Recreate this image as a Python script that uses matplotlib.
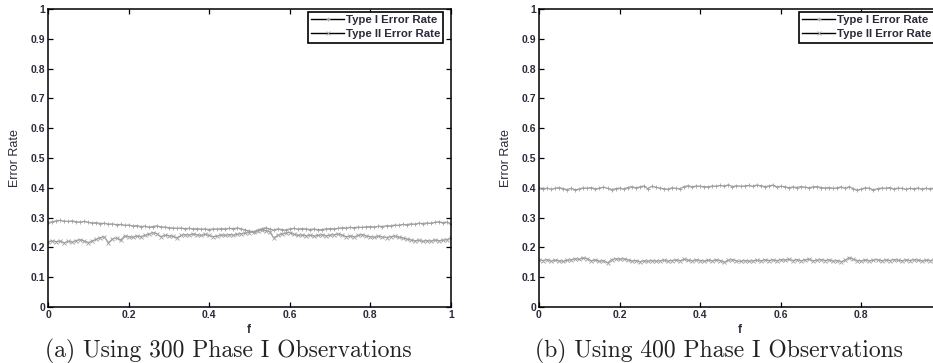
import matplotlib
matplotlib.use("Agg")
import matplotlib.pyplot as plt
from matplotlib.lines import Line2D
from matplotlib.ticker import MultipleLocator, FuncFormatter

f = [0.00, 0.01, 0.02, 0.03, 0.04, 0.05, 0.06, 0.07, 0.08, 0.09,
     0.10, 0.11, 0.12, 0.13, 0.14, 0.15, 0.16, 0.17, 0.18, 0.19,
     0.20, 0.21, 0.22, 0.23, 0.24, 0.25, 0.26, 0.27, 0.28, 0.29,
     0.30, 0.31, 0.32, 0.33, 0.34, 0.35, 0.36, 0.37, 0.38, 0.39,
     0.40, 0.41, 0.42, 0.43, 0.44, 0.45, 0.46, 0.47, 0.48, 0.49,
     0.50, 0.51, 0.52, 0.53, 0.54, 0.55, 0.56, 0.57, 0.58, 0.59,
     0.60, 0.61, 0.62, 0.63, 0.64, 0.65, 0.66, 0.67, 0.68, 0.69,
     0.70, 0.71, 0.72, 0.73, 0.74, 0.75, 0.76, 0.77, 0.78, 0.79,
     0.80, 0.81, 0.82, 0.83, 0.84, 0.85, 0.86, 0.87, 0.88, 0.89,
     0.90, 0.91, 0.92, 0.93, 0.94, 0.95, 0.96, 0.97, 0.98, 0.99, 1.00]

# (a) 300 Phase I observations
a_type1 = [0.283, 0.286, 0.289, 0.291, 0.288, 0.287, 0.289, 0.286, 0.285, 0.287, 0.284,
           0.282, 0.283, 0.280, 0.281, 0.278, 0.279, 0.276, 0.277, 0.274, 0.275,
           0.272, 0.273, 0.270, 0.271, 0.268, 0.270, 0.272, 0.269, 0.268, 0.266,
           0.265, 0.264, 0.265, 0.263, 0.264, 0.262, 0.263, 0.261, 0.262, 0.260,
           0.262, 0.261, 0.263, 0.262, 0.264, 0.263, 0.265, 0.262, 0.258, 0.255,
           0.252, 0.258, 0.262, 0.266, 0.262, 0.258, 0.262, 0.260, 0.258, 0.262,
           0.264, 0.261, 0.263, 0.262, 0.260, 0.262, 0.259, 0.260, 0.262, 0.263,
           0.262, 0.264, 0.266, 0.265, 0.267, 0.266, 0.268, 0.267, 0.269, 0.270,
           0.268, 0.271, 0.270, 0.273, 0.272, 0.275, 0.274, 0.277, 0.276, 0.279,
           0.278, 0.281, 0.280, 0.282, 0.281, 0.284, 0.286, 0.283, 0.285, 0.278]
a_type2 = [0.218, 0.222, 0.219, 0.221, 0.215, 0.220, 0.218, 0.223, 0.226, 0.221, 0.216,
           0.222, 0.227, 0.233, 0.235, 0.216, 0.228, 0.232, 0.224, 0.238, 0.236,
           0.234, 0.238, 0.236, 0.240, 0.244, 0.250, 0.246, 0.236, 0.241, 0.239,
           0.237, 0.232, 0.240, 0.243, 0.241, 0.245, 0.242, 0.240, 0.244, 0.240,
           0.236, 0.238, 0.242, 0.240, 0.243, 0.241, 0.244, 0.246, 0.248, 0.250,
           0.252, 0.255, 0.258, 0.256, 0.253, 0.232, 0.240, 0.245, 0.248, 0.250,
           0.244, 0.240, 0.242, 0.239, 0.241, 0.238, 0.240, 0.242, 0.239, 0.241,
           0.243, 0.245, 0.241, 0.236, 0.238, 0.235, 0.240, 0.243, 0.238, 0.236,
           0.234, 0.237, 0.235, 0.233, 0.236, 0.238, 0.234, 0.232, 0.228, 0.225,
           0.222, 0.224, 0.220, 0.223, 0.221, 0.225, 0.222, 0.224, 0.226, 0.232]

# (b) 400 Phase I observations
b_type1 = [0.398, 0.396, 0.399, 0.395, 0.398, 0.401, 0.397, 0.394, 0.398, 0.393, 0.396,
           0.400, 0.398, 0.401, 0.396, 0.399, 0.402, 0.398, 0.394, 0.397, 0.399,
           0.396, 0.401, 0.404, 0.400, 0.403, 0.406, 0.397, 0.405, 0.402, 0.399,
           0.397, 0.395, 0.400, 0.398, 0.397, 0.404, 0.407, 0.403, 0.406, 0.405,
           0.404, 0.403, 0.406, 0.405, 0.408, 0.406, 0.410, 0.404, 0.407, 0.405,
           0.406, 0.408, 0.405, 0.409, 0.407, 0.404, 0.406, 0.409, 0.403, 0.405,
           0.404, 0.400, 0.403, 0.401, 0.404, 0.402, 0.400, 0.403, 0.404, 0.401,
           0.399, 0.401, 0.398, 0.400, 0.403, 0.398, 0.404, 0.397, 0.392, 0.396,
           0.400, 0.398, 0.393, 0.397, 0.399, 0.398, 0.401, 0.396, 0.399, 0.398,
           0.395, 0.398, 0.397, 0.399, 0.396, 0.398, 0.397, 0.399, 0.398, 0.396]
b_type2 = [0.158, 0.156, 0.159, 0.154, 0.157, 0.155, 0.153, 0.157, 0.158, 0.162, 0.160,
           0.165, 0.162, 0.155, 0.158, 0.153, 0.156, 0.148, 0.159, 0.162, 0.160,
           0.162, 0.158, 0.154, 0.156, 0.152, 0.155, 0.153, 0.156, 0.154, 0.155,
           0.157, 0.154, 0.156, 0.158, 0.155, 0.160, 0.157, 0.155, 0.158, 0.156,
           0.154, 0.157, 0.155, 0.158, 0.156, 0.150, 0.157, 0.159, 0.155, 0.153,
           0.156, 0.154, 0.155, 0.157, 0.155, 0.158, 0.156, 0.158, 0.155, 0.159,
           0.157, 0.160, 0.156, 0.159, 0.155, 0.158, 0.160, 0.155, 0.157, 0.159,
           0.156, 0.158, 0.154, 0.156, 0.152, 0.157, 0.166, 0.160, 0.156, 0.154,
           0.158, 0.155, 0.157, 0.159, 0.155, 0.158, 0.156, 0.159, 0.157, 0.155,
           0.158, 0.156, 0.159, 0.157, 0.155, 0.157, 0.156, 0.158, 0.156, 0.155]

series_labels = ["Type I Error Rate", "Type II Error Rate"]
captions = ["(a) Using 300 Phase I Observations", "(b) Using 400 Phase I Observations"]
xlabel = "f"
ylabel = "Error Rate"

W, H = 933, 363
fig = plt.figure(figsize=(W / 100, H / 100), dpi=100)

text_color = "#2a2a3a"
line_color = "#a0a0a0"

def px_axes(left, top, right, bottom):
    return [left / W, 1 - bottom / H, (right - left) / W, (bottom - top) / H]

panels = [
    (px_axes(48, 9, 451, 307), a_type1, a_type2, captions[0], 228, 15, 249, True),
    (px_axes(539, 9, 942, 307), b_type1, b_type2, captions[1], 719, 506, 740, False),
]

for rect, t1, t2, cap, capx, ylx, xlx, show_last in panels:
    ax = fig.add_axes(rect)
    ax.plot(f, t1, color=line_color, lw=0.9, marker="+", ms=2.6, mew=0.6)
    ax.plot(f, t2, color=line_color, lw=0.9, marker="x", ms=2.2, mew=0.6)
    ax.set_xlim(0, 1)
    ax.set_ylim(0, 1)
    ax.xaxis.set_major_locator(MultipleLocator(0.2))
    ax.yaxis.set_major_locator(MultipleLocator(0.1))
    if show_last:
        xfmt = FuncFormatter(lambda v, p: "%g" % round(v, 2))
    else:
        xfmt = FuncFormatter(lambda v, p: "" if v > 0.99 else "%g" % round(v, 2))
    ax.xaxis.set_major_formatter(xfmt)
    ax.yaxis.set_major_formatter(FuncFormatter(lambda v, p: "%g" % round(v, 2)))
    ax.tick_params(direction="in", length=3.5, width=0.9, top=True, right=True,
                   colors="black", labelcolor=text_color, pad=2)
    for lab in ax.get_xticklabels() + ax.get_yticklabels():
        lab.set_fontfamily("Liberation Sans")
        lab.set_fontweight("bold")
        lab.set_fontsize(7.5)
    for s in ax.spines.values():
        s.set_linewidth(1.1)
        s.set_color("black")
    handles = [
        Line2D([], [], color="black", lw=1.0, marker="+", ms=3.0, mec="#aaaaaa", mew=0.6),
        Line2D([], [], color="black", lw=1.0, marker="x", ms=2.4, mec="#aaaaaa", mew=0.6),
    ]
    leg = ax.legend(handles, series_labels, loc="upper left",
                    bbox_to_anchor=(0.645, 0.99), borderaxespad=0,
                    prop=dict(family="Liberation Sans", weight="bold", size=8.2),
                    handlelength=2.9, handletextpad=0.1, labelspacing=0.35,
                    borderpad=0.3, fancybox=False, framealpha=1, edgecolor="black")
    leg.get_frame().set_linewidth(1.2)
    for t in leg.get_texts():
        t.set_color(text_color)
    fig.text(xlx / W, 1 - 330 / H, xlabel, ha="center", va="center",
             fontfamily="Liberation Sans", fontweight="bold", fontsize=8.5, color=text_color)
    fig.text(ylx / W, 1 - 158 / H, ylabel, rotation=90, ha="center", va="center",
             fontfamily="Liberation Sans", fontsize=9, color=text_color)
    fig.text(capx / W, 1 - 351 / H, cap, ha="center", va="center",
             fontfamily="cmr10", fontsize=17, color="#222222")

fig.savefig("out.png", dpi=100)
